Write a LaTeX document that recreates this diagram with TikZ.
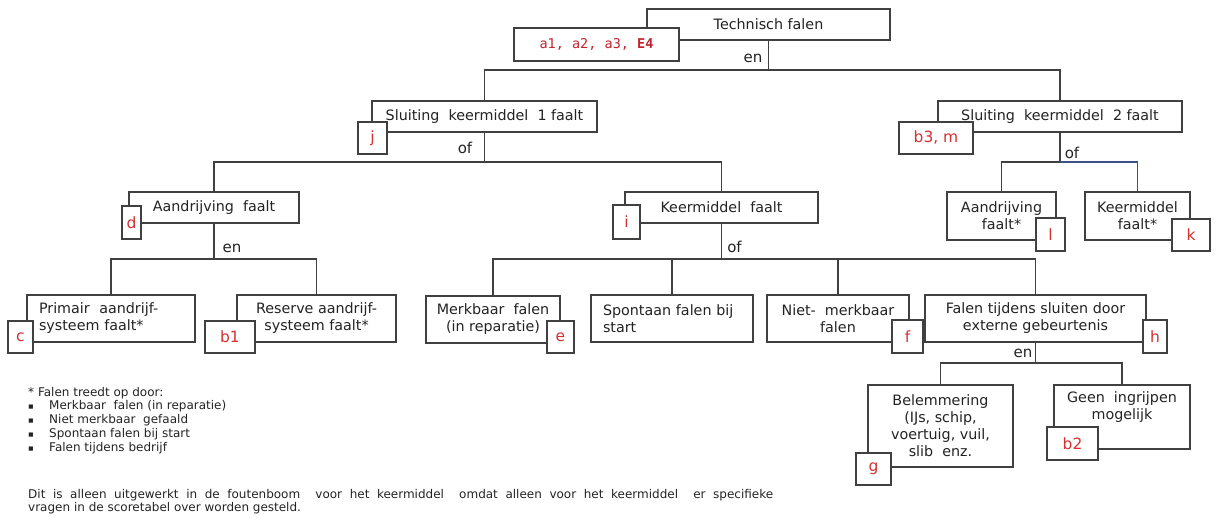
\documentclass[tikz,border=0pt]{standalone}
\usepackage{fontspec}
\setmainfont{DejaVu Sans}
\newfontfamily\monof{DejaVu Sans Mono}
\definecolor{lc}{RGB}{64,64,64}
\definecolor{bc}{RGB}{60,80,135}
\definecolor{tc}{RGB}{35,35,35}
\definecolor{rc}{RGB}{212,50,50}
\definecolor{ra}{RGB}{195,35,45}
\begin{document}
\begin{tikzpicture}[x=1pt,y=-1pt,
  line/.style={draw=lc, line width=1.2pt},
  bline/.style={draw=bc, line width=1.2pt},
  box/.style={draw=lc, line width=1.2pt, fill=white, inner sep=0pt, align=center,
    font=\fontsize{14.3}{17}\selectfont, text=tc},
  lbox/.style={box, align=left, inner xsep=12pt},
  lbl/.style={draw=lc, line width=1.2pt, fill=white, inner sep=0pt, text=rc,
    font=\fontsize{15.5}{17}\selectfont},
  gate/.style={inner sep=0pt, font=\fontsize{15}{17}\selectfont, text=tc},
  note/.style={inner sep=0pt, anchor=west, text height=9pt, text depth=3pt,
    font=\fontsize{12}{14}\selectfont, text=tc},
  bul/.style={inner sep=0pt, text=tc, font=\fontsize{5.5}{7}\selectfont}]
\useasboundingbox (0,0) rectangle (1217,528);

% main boxes
\node[box, minimum width=243pt, minimum height=31pt] (top) at (768.5,24.5) {Technisch falen};
\node[box, minimum width=225pt, minimum height=31pt] (s1) at (484.5,116.5) {Sluiting~ keermiddel~ 1 faalt};
\node[box, minimum width=244pt, minimum height=31pt] (s2) at (1060,116.5) {Sluiting~ keermiddel~ 2 faalt};
\node[box, minimum width=170pt, minimum height=31pt] (ad) at (214,207.5) {Aandrijving~ faalt};
\node[box, minimum width=193pt, minimum height=31pt] (kf) at (721.5,207.5) {Keermiddel~ faalt};
\node[lbox, text width=144pt, minimum height=47pt] (pa) at (111,318.5) {Primair~ aandrijf-\\systeem faalt*};
\node[box, minimum width=159pt, minimum height=47pt] (rs) at (316.5,318.5) {Reserve aandrijf-\\systeem faalt*};
\node[box, minimum width=134pt, minimum height=47pt] (mf) at (493,319.5) {Merkbaar~ falen\\(in reparatie)};
\node[lbox, text width=138pt, minimum height=47pt] (sf) at (672,318.5) {Spontaan falen bij\\start};
\node[box, minimum width=142pt, minimum height=47pt] (nm) at (838,318.5) {Niet-~ merkbaar\\falen};
\node[box, minimum width=221pt, minimum height=47pt] (ft) at (1035.5,318.5) {Falen tijdens sluiten door\\externe gebeurtenis};
\node[box, minimum width=109pt, minimum height=48pt] (a2) at (1001.5,216) {Aandrijving\\faalt*};
\node[box, minimum width=105pt, minimum height=48pt] (k2) at (1137.5,216) {Keermiddel\\faalt*};
\node[box, minimum width=145pt, minimum height=82pt] (be) at (940.5,426) {Belemmering\\(IJs, schip,\\voertuig, vuil,\\slib~ enz.};
\node[box, minimum width=136pt, minimum height=64pt] (gi) at (1122,417) {Geen~ ingrijpen\\mogelijk\\\strut};

% connectors
\draw[line] (top.south) -- (top.south |- 0,70) coordinate (g0);
\draw[line] (s1.north) |- (g0) -| (s2.north);
\draw[line] (s1.south) -- (s1.south |- 0,162) coordinate (g1);
\draw[line] (ad.north) |- (g1) -| (kf.north);
\draw[line] (s2.south) -- (s2.south |- 0,162) coordinate (g1b);
\draw[line] (a2.north) |- (g1b);
\draw[bline] (g1b) -| (k2.north);
\draw[line] (ad.south) -- (ad.south |- 0,259) coordinate (g2);
\draw[line] (pa.north) |- (g2) -| (rs.north);
\draw[line] (kf.south) -- (kf.south |- 0,259) coordinate (g3);
\draw[line] (mf.north) |- (g3) -| (ft.north);
\draw[line] (sf.north) -- (sf.north |- g3);
\draw[line] (nm.north) -- (nm.north |- g3);
\draw[line] (ft.south) -- (ft.south |- 0,363) coordinate (g4);
\draw[line] (be.north) |- (g4) -| (gi.north);

% gate words
\node[gate] (e0) at (753,58) {en};
\node[gate] (o1) at (465,148) {of};
\node[gate] (o2) at (1072,153) {of};
\node[gate] (e2) at (232,248) {en};
\node[gate] (o3) at (734.5,247) {of};
\node[gate] (e4) at (1023,353) {en};

% red label boxes
\node[lbl, minimum width=165pt, minimum height=33pt, text=ra, font=\monof\fontsize{13.5}{16}\selectfont] (la) at (596.5,44.5) {a1, a2, a3, \textbf{E4}};
\node[lbl, minimum width=29pt, minimum height=32pt] (lj) at (372.5,138) {j};
\node[lbl, minimum width=74pt, minimum height=32pt] (lb3) at (936,138) {b3, m};
\node[lbl, minimum width=19pt, minimum height=33pt] (ld) at (131.5,222.5) {d};
\node[lbl, minimum width=27pt, minimum height=34pt] (li) at (626.5,222) {i};
\node[lbl, minimum width=25pt, minimum height=32pt] (lc) at (20.5,337) {c};
\node[lbl, minimum width=50pt, minimum height=32pt] (lb1) at (230,337) {b1};
\node[lbl, minimum width=27pt, minimum height=32pt] (le) at (560.5,337) {e};
\node[lbl, minimum width=31pt, minimum height=33pt] (lf) at (907.5,336.5) {f};
\node[lbl, minimum width=24pt, minimum height=33pt] (lh) at (1155,336.5) {h};
\node[lbl, minimum width=29pt, minimum height=33pt] (ll) at (1050.5,234.5) {l};
\node[lbl, minimum width=38pt, minimum height=32pt] (lk) at (1191,235) {k};
\node[lbl, minimum width=35pt, minimum height=32pt] (lg) at (873.5,469) {g};
\node[lbl, minimum width=51pt, minimum height=33pt] (lb2) at (1072.5,443.5) {b2};

% footnote
\node[note] (n0) at (28,393) {* Falen treedt op door:};
\foreach \i/\t in {1/{Merkbaar~ falen (in reparatie)},2/{Niet merkbaar~ gefaald},3/{Spontaan falen bij start},4/{Falen tijdens bedrijf}}{
  \node[bul] (nb\i) at (31,393.5+13.8*\i) {■};
  \node[note] (nt\i) at (49,393+13.8*\i) {\t};
}
\node[note] (p1) at (28,495) {\makebox[745pt][s]{Dit is alleen uitgewerkt in de foutenboom~ voor het keermiddel~ omdat alleen voor het keermiddel~ er specifieke}};
\node[note] (p2) at (28,508.5) {vragen in de scoretabel over worden gesteld.};
\end{tikzpicture}
\end{document}
